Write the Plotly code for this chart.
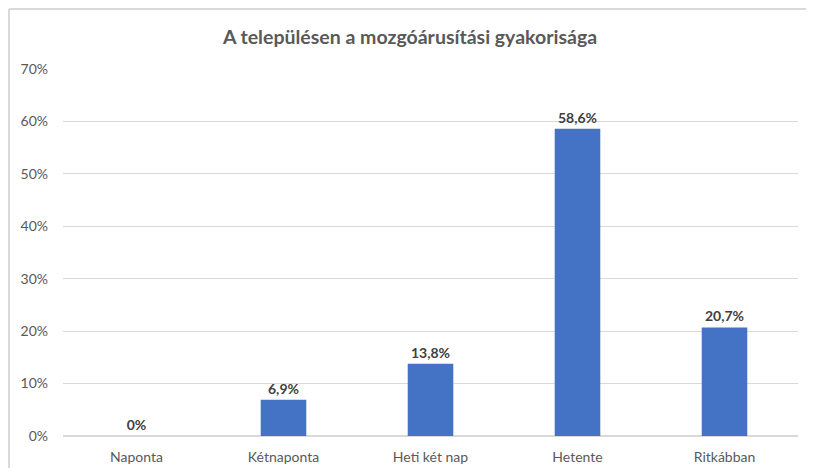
import plotly.graph_objects as go

# Chart data
categories = ['Naponta', 'Kétnaponta', 'Heti két nap', 'Hetente', 'Ritkábban']
values = [0, 6.9, 13.8, 58.6, 20.7]
labels = ['0%' if v == 0 else f'{v:.1f}%'.replace('.', ',') for v in values]
y_ticks = [0, 10, 20, 30, 40, 50, 60, 70]
y_tick_text = [f'{t}%' for t in y_ticks]

font_family = 'Lato, Liberation Sans, sans-serif'

fig = go.Figure()

fig.add_trace(go.Bar(
    x=categories,
    y=values,
    text=labels,
    textposition='outside',
    textfont=dict(size=14, color='#404040', family=font_family, weight='bold'),
    cliponaxis=False,
    marker=dict(color='#4472C4', line=dict(width=0)),
    hoverinfo='x+y',
))

# page body has an 8px margin, so the figure is sized so no scrollbars appear
fig.update_layout(
    width=798,
    height=460,
    margin=dict(l=55, r=8, t=61, b=32),
    paper_bgcolor='white',
    plot_bgcolor='white',
    bargap=0.69,
    showlegend=False,
    title=dict(
        text='<b>A településen a mozgóárusítási gyakorisága</b>',
        x=402 / 798, xref='container', xanchor='center',
        y=1 - 29 / 460, yref='container', yanchor='middle',
        font=dict(size=19.5, color='#595959', family=font_family),
    ),
    font=dict(family=font_family, size=14, color='#595959'),
)

fig.update_yaxes(
    range=[0, 70],
    tickvals=y_ticks,
    ticktext=y_tick_text,
    showgrid=True,
    gridcolor='#D9D9D9',
    gridwidth=1,
    zeroline=True,
    zerolinecolor='#D9D9D9',
    showline=False,
    ticks='',
    ticklabelstandoff=14,
    automargin=False,
    tickfont=dict(size=14, color='#595959'),
)
fig.update_xaxes(
    showgrid=False,
    showline=False,
    ticks='',
    ticklabelstandoff=11,
    automargin=False,
    tickfont=dict(size=14, color='#595959'),
)

# Chart border: only top and left edges are visible in the reference
border = dict(color='#D9D9D9', width=2)
x_left = -54 / 735
y_top = 1 + 60 / 367
fig.add_shape(type='line', xref='paper', yref='paper',
              x0=x_left, x1=1.1, y0=y_top, y1=y_top, line=border, layer='below')
fig.add_shape(type='line', xref='paper', yref='paper',
              x0=x_left, x1=x_left, y0=-0.2, y1=y_top, line=border, layer='below')

fig.write_html('out.html')
